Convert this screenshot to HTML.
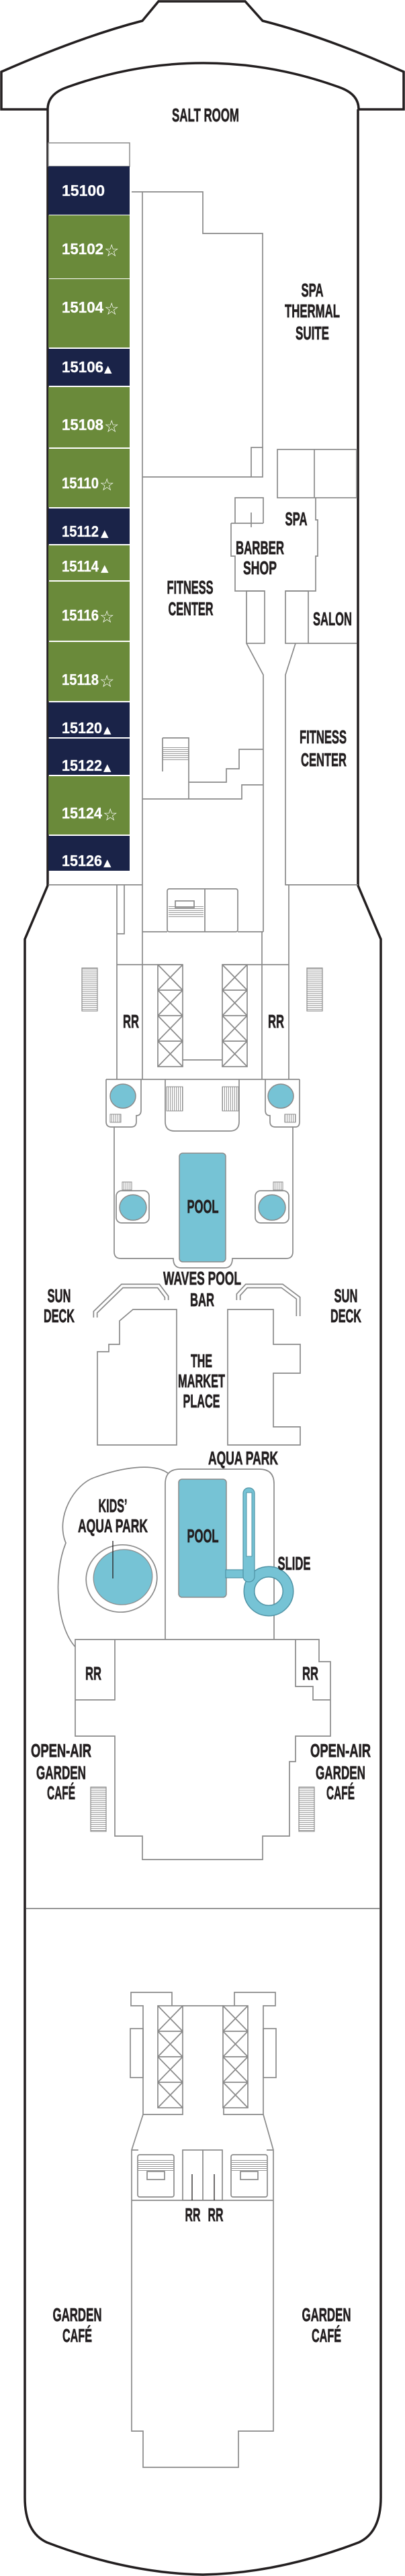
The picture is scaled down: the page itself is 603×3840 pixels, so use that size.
<!DOCTYPE html>
<html><head><meta charset="utf-8"><style>
html,body{margin:0;padding:0;background:#fff;}
svg{display:block;}
.l{font-family:"Liberation Sans Narrow","Liberation Sans",sans-serif;font-weight:bold;font-size:28px;fill:#231f20;stroke:#231f20;stroke-width:0.7;text-anchor:middle;}
.c{font-family:"Liberation Sans",sans-serif;font-weight:bold;font-size:23px;fill:#fff;stroke:#fff;stroke-width:0.3;}
.s{font-family:"DejaVu Sans",sans-serif;font-size:25px;fill:#fff;}
.t{font-family:"DejaVu Sans",sans-serif;font-size:15px;fill:#fff;}
.g{fill:none;stroke:#8a8a8a;stroke-width:1.7;}
.h{fill:none;stroke:#231f20;stroke-width:3.5;}
</style></head><body>
<svg width="603" height="3840" viewBox="0 0 603 3840" xmlns="http://www.w3.org/2000/svg">
<defs>
<pattern id="hl" width="4" height="3" patternUnits="userSpaceOnUse"><line x1="0" y1="1.5" x2="4" y2="1.5" stroke="#8a8a8a" stroke-width="0.9"/></pattern>
<pattern id="vl" width="3" height="4" patternUnits="userSpaceOnUse"><line x1="1.5" y1="0" x2="1.5" y2="4" stroke="#8a8a8a" stroke-width="0.9"/></pattern>
<g id="x4">
<rect x="0" y="0" width="37" height="152" class="g"/>
<path class="g" d="M0,38H37M0,76H37M0,114H37M0,0L37,38M37,0L0,38M0,38L37,76M37,38L0,76M0,76L37,114M37,76L0,114M0,114L37,152M37,114L0,152"/>
</g>
</defs>

<path class="h" d="M71,163 L2,163 L2,107 Q120,55 212,31 L236,2 L365,2 L391,31 Q485,55 601,107 L601,163 L534,163"/>
<path class="h" d="M71,163 Q71,140 100,130 Q200,94 303,94 Q406,94 505,130 Q534,140 534,163"/>
<path class="h" d="M71,163 L71,1320 L37,1400 L37,3723 Q37,3775 70,3790 Q190,3836 302,3838 Q414,3836 534,3790 Q567,3775 567,3723 L567,1400 L533,1320 L533,163"/>

<rect x="72" y="213" width="121" height="35" fill="#fff" stroke="#8a8a8a" stroke-width="1.5"/>
<g>
<rect x="72" y="248" width="121" height="72" fill="#1a2348"/>
<rect x="72" y="321" width="121" height="94" fill="#6a8a3a"/>
<rect x="72" y="416" width="121" height="102" fill="#6a8a3a"/>
<rect x="72" y="520" width="121" height="55" fill="#1a2348"/>
<rect x="72" y="577" width="121" height="90" fill="#6a8a3a"/>
<rect x="72" y="669" width="121" height="87" fill="#6a8a3a"/>
<rect x="72" y="758" width="121" height="53" fill="#1a2348"/>
<rect x="72" y="813" width="121" height="52" fill="#6a8a3a"/>
<rect x="72" y="867" width="121" height="88" fill="#6a8a3a"/>
<rect x="72" y="957" width="121" height="88" fill="#6a8a3a"/>
<rect x="72" y="1047" width="121" height="52" fill="#1a2348"/>
<rect x="72" y="1101" width="121" height="54" fill="#1a2348"/>
<rect x="72" y="1157" width="121" height="87" fill="#6a8a3a"/>
<rect x="72" y="1246" width="121" height="52" fill="#1a2348"/>
</g>
<text class="c" x="92" y="292" textLength="64" lengthAdjust="spacingAndGlyphs">15100</text>
<text class="c" x="92" y="379" textLength="62" lengthAdjust="spacingAndGlyphs">15102</text><text class="s" x="155" y="382">☆</text>
<text class="c" x="92" y="466" textLength="62" lengthAdjust="spacingAndGlyphs">15104</text><text class="s" x="155" y="469">☆</text>
<text class="c" x="92" y="555" textLength="62" lengthAdjust="spacingAndGlyphs">15106</text><text class="t" x="155" y="555">▲</text>
<text class="c" x="92" y="641" textLength="62" lengthAdjust="spacingAndGlyphs">15108</text><text class="s" x="155" y="644">☆</text>
<text class="c" x="92" y="728" textLength="55" lengthAdjust="spacingAndGlyphs">15110</text><text class="s" x="148" y="731">☆</text>
<text class="c" x="92" y="800" textLength="55" lengthAdjust="spacingAndGlyphs">15112</text><text class="t" x="150" y="800">▲</text>
<text class="c" x="92" y="852" textLength="55" lengthAdjust="spacingAndGlyphs">15114</text><text class="t" x="150" y="852">▲</text>
<text class="c" x="92" y="925" textLength="55" lengthAdjust="spacingAndGlyphs">15116</text><text class="s" x="148" y="928">☆</text>
<text class="c" x="92" y="1021" textLength="55" lengthAdjust="spacingAndGlyphs">15118</text><text class="s" x="148" y="1024">☆</text>
<text class="c" x="92" y="1093" textLength="60" lengthAdjust="spacingAndGlyphs">15120</text><text class="t" x="154" y="1093">▲</text>
<text class="c" x="92" y="1149" textLength="60" lengthAdjust="spacingAndGlyphs">15122</text><text class="t" x="154" y="1149">▲</text>
<text class="c" x="92" y="1220" textLength="60" lengthAdjust="spacingAndGlyphs">15124</text><text class="s" x="153" y="1223">☆</text>
<text class="c" x="92" y="1291" textLength="60" lengthAdjust="spacingAndGlyphs">15126</text><text class="t" x="154" y="1291">▲</text>

<path class="g" d="M196,286 L212,286 M212,286 L302,286 L302,348 L391,348 L391,667"/>
<path class="g" d="M212,286 L212,1609"/>
<rect class="g" x="374" y="667" width="17" height="44"/>
<path class="g" d="M212,711 L374,711"/>
<rect class="g" x="413" y="670" width="118" height="72"/>
<path class="g" d="M468,670 L468,742"/>
<path class="g" d="M350,780 L350,742 L392,742 L392,780 M344,780 L392,780 M344,780 L344,829 L350,829 L350,881 L394,881 M374,764 L374,786"/>
<path class="g" d="M470,742 L470,775 L473,775 L473,829 L470,829 L470,881 L425,881"/>
<rect class="g" x="367" y="881" width="27" height="78"/>
<path class="g" d="M367,959 L392,1006 L392,1389"/>
<rect class="g" x="425" y="881" width="34" height="78"/>
<path class="g" d="M459,959 L531,959"/>
<path class="g" d="M440,959 L425,1006 L425,1319 L533,1319"/>
<path class="g" d="M72,1319 L212,1319"/>
<rect x="242" y="1112" width="39" height="22" fill="url(#hl)"/>
<path class="g" d="M242,1100 L242,1150 M242,1100 L281,1100 L281,1166 M392,1117 L356,1117 L356,1146 L337,1146 L337,1166 L281,1166 M392,1170 L360,1170 L360,1191 L212,1191 M281,1166 L281,1191"/>
<path class="g" d="M174,1319 L174,1609 M185,1319 L185,1392 L174,1392"/>
<rect class="g" x="249" y="1325" width="105" height="64" rx="3"/>
<path class="g" d="M305,1325 L305,1389 M212,1389 L249,1389 M354,1389 L392,1389"/>
<rect x="251" y="1351" width="52" height="17" fill="url(#hl)"/>
<rect class="g" x="261" y="1343" width="28" height="10"/>
<path class="g" d="M430,1319 L430,1609 M390,1389 L390,1609 M174,1438 L272,1438 M331,1438 L430,1438 M272,1580 L331,1580"/>
<use href="#x4" x="235" y="1438"/>
<use href="#x4" x="331" y="1438"/>
<rect x="122" y="1443" width="23" height="64" fill="url(#hl)" stroke="#8a8a8a" stroke-width="1.2"/>
<rect x="457" y="1443" width="23" height="64" fill="url(#hl)" stroke="#8a8a8a" stroke-width="1.2"/>
<text class="l" x="195" y="1532" textLength="24" lengthAdjust="spacingAndGlyphs">RR</text>
<text class="l" x="411" y="1532" textLength="24" lengthAdjust="spacingAndGlyphs">RR</text>

<path class="g" d="M158,1609 L446,1609 M158,1609 L158,1672 Q158,1680 166,1680 L170,1680 L170,1866 Q170,1876 180,1876 L258,1876 Q258,1890 270,1890 L334,1890 Q346,1890 346,1876 L426,1876 Q436,1876 436,1866 L436,1680 L440,1680 Q446,1680 446,1672 L446,1609"/>
<path class="g" d="M210,1609 L210,1655 Q210,1663 203,1663 L203,1672 Q203,1680 195,1680 L170,1680"/>
<path class="g" d="M395,1609 L395,1655 Q395,1663 402,1663 L402,1672 Q402,1680 410,1680 L436,1680"/>
<path class="g" d="M246,1609 L246,1672 Q246,1686 260,1686 L342,1686 Q356,1686 356,1672 L356,1609"/>
<ellipse cx="183" cy="1634" rx="19" ry="18" fill="#76c3d5" stroke="#8a8a8a" stroke-width="1.5"/>
<ellipse cx="418" cy="1634" rx="19" ry="18" fill="#76c3d5" stroke="#8a8a8a" stroke-width="1.5"/>
<rect x="248" y="1620" width="24" height="36" fill="url(#vl)" stroke="#8a8a8a" stroke-width="1"/>
<rect x="331" y="1620" width="24" height="36" fill="url(#vl)" stroke="#8a8a8a" stroke-width="1"/>
<rect x="164" y="1661" width="16" height="12" fill="url(#vl)" stroke="#8a8a8a" stroke-width="1"/>
<rect x="424" y="1661" width="16" height="12" fill="url(#vl)" stroke="#8a8a8a" stroke-width="1"/>
<rect class="g" x="173" y="1775" width="49" height="48" rx="8"/>
<rect class="g" x="380" y="1775" width="50" height="48" rx="8"/>
<rect x="182" y="1762" width="14" height="12" fill="url(#vl)" stroke="#8a8a8a" stroke-width="1"/>
<rect x="407" y="1762" width="14" height="12" fill="url(#vl)" stroke="#8a8a8a" stroke-width="1"/>
<ellipse cx="198" cy="1800" rx="20" ry="19" fill="#76c3d5" stroke="#8a8a8a" stroke-width="1.5"/>
<ellipse cx="405" cy="1800" rx="20" ry="19" fill="#76c3d5" stroke="#8a8a8a" stroke-width="1.5"/>
<rect x="267" y="1719" width="69" height="162" rx="5" fill="#76c3d5" stroke="#8a8a8a" stroke-width="1.5"/>
<text class="l" x="302" y="1808" textLength="47" lengthAdjust="spacingAndGlyphs">POOL</text>

<text class="l" x="301" y="1915" textLength="116" lengthAdjust="spacingAndGlyphs">WAVES POOL</text>
<text class="l" x="301" y="1947" textLength="36" lengthAdjust="spacingAndGlyphs">BAR</text>
<text class="l" x="88" y="1941" textLength="35" lengthAdjust="spacingAndGlyphs">SUN</text>
<text class="l" x="88" y="1971" textLength="46" lengthAdjust="spacingAndGlyphs">DECK</text>
<text class="l" x="515" y="1941" textLength="35" lengthAdjust="spacingAndGlyphs">SUN</text>
<text class="l" x="515" y="1971" textLength="46" lengthAdjust="spacingAndGlyphs">DECK</text>
<path d="M142,1964 L142,1956 L182,1917 L236,1917 L248,1933 L248,1938" fill="none" stroke="#8a8a8a" stroke-width="7"/>
<path d="M142,1964 L142,1956 L182,1917 L236,1917 L248,1933 L248,1938" fill="none" stroke="#fff" stroke-width="3.6"/>
<path d="M355,1938 L355,1930 L367,1917 L420,1917 L444,1935 L444,1962" fill="none" stroke="#8a8a8a" stroke-width="7"/>
<path d="M355,1938 L355,1930 L367,1917 L420,1917 L444,1935 L444,1962" fill="none" stroke="#fff" stroke-width="3.6"/>
<path class="g" d="M145,2015 L145,2154 L263,2154 L263,1952 L198,1952 L178,1969 L178,2004 L162,2004 L162,2015 Z"/>
<path class="g" d="M339,1952 L339,2154 L447,2154 L447,2127 L407,2127 L407,2047 L447,2047 L447,2004 L407,2004 L407,1952 Z"/>
<text class="l" x="300" y="2038" textLength="32" lengthAdjust="spacingAndGlyphs">THE</text>
<text class="l" x="300" y="2068" textLength="70" lengthAdjust="spacingAndGlyphs">MARKET</text>
<text class="l" x="300" y="2098" textLength="55" lengthAdjust="spacingAndGlyphs">PLACE</text>
<text class="l" x="362" y="2183" textLength="104" lengthAdjust="spacingAndGlyphs">AQUA PARK</text>

<path class="g" d="M246,2444 L246,2212 Q246,2190 268,2190 L386,2190 Q408,2190 408,2212 L408,2444"/>
<rect x="266" y="2205" width="71" height="176" rx="5" fill="#76c3d5" stroke="#8a8a8a" stroke-width="1.5"/>
<text class="l" x="302" y="2299" textLength="47" lengthAdjust="spacingAndGlyphs">POOL</text>
<rect x="336" y="2340" width="30" height="12" fill="#76c3d5" stroke="#4f93a5" stroke-width="1.2"/>
<circle cx="400" cy="2372" r="29" fill="none" stroke="#4f93a5" stroke-width="17"/>
<circle cx="400" cy="2372" r="29" fill="none" stroke="#76c3d5" stroke-width="14"/>
<rect x="362" y="2218" width="17" height="140" rx="8" fill="#76c3d5" stroke="#4f93a5" stroke-width="1.2"/>
<rect x="367" y="2225" width="8" height="95" fill="#fff" stroke="#4f93a5" stroke-width="1"/>
<text class="l" x="438" y="2340" textLength="49" lengthAdjust="spacingAndGlyphs">SLIDE</text>
<path class="g" d="M112,2455 C85,2425 78,2350 98,2300 C82,2262 110,2212 142,2202 C180,2188 228,2180 250,2196"/>
<ellipse cx="181" cy="2353" rx="53" ry="50" transform="rotate(-15 181 2353)" fill="#fff" stroke="#8a8a8a" stroke-width="1.7"/>
<ellipse cx="183" cy="2351" rx="44" ry="41" transform="rotate(-15 183 2351)" fill="#76c3d5" stroke="#8a8a8a" stroke-width="1.2"/>
<path d="M168,2297 L168,2353" stroke="#231f20" stroke-width="1.3"/>
<text class="l" x="168" y="2254" textLength="43" lengthAdjust="spacingAndGlyphs">KIDS’</text>
<text class="l" x="168" y="2284" textLength="104" lengthAdjust="spacingAndGlyphs">AQUA PARK</text>

<path class="g" d="M112,2444 L475,2444 L475,2477 L492,2477 L492,2588 L440,2588 L440,2626 L431,2626 L431,2737 L391,2737 L391,2772 L212,2772 L212,2737 L171,2737 L171,2588 L112,2588 Z"/>
<path class="g" d="M112,2534 L171,2534 L171,2444 M440,2444 L440,2514 L466,2514 L466,2534 L492,2534"/>
<text class="l" x="139" y="2504" textLength="24" lengthAdjust="spacingAndGlyphs">RR</text>
<text class="l" x="462" y="2504" textLength="24" lengthAdjust="spacingAndGlyphs">RR</text>
<rect x="135" y="2664" width="23" height="66" fill="url(#hl)" stroke="#8a8a8a" stroke-width="1.2"/>
<rect x="445" y="2664" width="23" height="66" fill="url(#hl)" stroke="#8a8a8a" stroke-width="1.2"/>
<text class="l" x="91" y="2619" textLength="90" lengthAdjust="spacingAndGlyphs">OPEN-AIR</text>
<text class="l" x="91" y="2652" textLength="74" lengthAdjust="spacingAndGlyphs">GARDEN</text>
<text class="l" x="91" y="2682" textLength="42" lengthAdjust="spacingAndGlyphs">CAFÉ</text>
<text class="l" x="507" y="2619" textLength="90" lengthAdjust="spacingAndGlyphs">OPEN-AIR</text>
<text class="l" x="507" y="2652" textLength="74" lengthAdjust="spacingAndGlyphs">GARDEN</text>
<text class="l" x="507" y="2682" textLength="42" lengthAdjust="spacingAndGlyphs">CAFÉ</text>
<path class="g" d="M39,2845 L565,2845"/>

<path class="g" d="M213,3152 L213,2990 L195,2990 L195,2970 L256,2970 L256,2990 M392,3152 L392,2990 L410,2990 L410,2970 L349,2970 L349,2990 M272,2990 L333,2990"/>
<use href="#x4" x="235" y="2990"/>
<use href="#x4" x="332" y="2990"/>
<path class="g" d="M213,3152 L272,3152 L272,3141 M392,3152 L333,3152 L333,3141"/>
<rect class="g" x="194" y="3024" width="19" height="73"/>
<rect class="g" x="392" y="3024" width="19" height="73"/>
<path class="g" d="M213,3152 L196,3205 L196,3624 L213,3624 L213,3678 L355,3678 L355,3624 L407,3624 L407,3205 L392,3152 M196,3205 L206,3205 M397,3205 L407,3205 M196,3280 L407,3280"/>
<rect class="g" x="272" y="3205" width="59" height="75"/>
<path class="g" d="M302,3205 L302,3280"/>
<path d="M286,3241 L286,3280 M319,3241 L319,3280" stroke="#231f20" stroke-width="1.3"/>
<rect class="g" x="205" y="3212" width="54" height="63" rx="3"/>
<rect x="206" y="3220" width="52" height="17" fill="url(#hl)"/>
<rect class="g" x="219" y="3237" width="26" height="12"/>
<rect class="g" x="344" y="3212" width="54" height="63" rx="3"/>
<rect x="345" y="3220" width="52" height="17" fill="url(#hl)"/>
<rect class="g" x="358" y="3237" width="26" height="12"/>
<text class="l" x="287" y="3311" textLength="23" lengthAdjust="spacingAndGlyphs">RR</text>
<text class="l" x="321" y="3311" textLength="23" lengthAdjust="spacingAndGlyphs">RR</text>
<text class="l" x="115" y="3460" textLength="73" lengthAdjust="spacingAndGlyphs">GARDEN</text>
<text class="l" x="115" y="3491" textLength="44" lengthAdjust="spacingAndGlyphs">CAFÉ</text>
<text class="l" x="486" y="3460" textLength="73" lengthAdjust="spacingAndGlyphs">GARDEN</text>
<text class="l" x="486" y="3491" textLength="44" lengthAdjust="spacingAndGlyphs">CAFÉ</text>

<text class="l" x="306" y="181" textLength="100" lengthAdjust="spacingAndGlyphs">SALT ROOM</text>
<text class="l" x="465" y="442" textLength="33" lengthAdjust="spacingAndGlyphs">SPA</text>
<text class="l" x="465" y="473" textLength="82" lengthAdjust="spacingAndGlyphs">THERMAL</text>
<text class="l" x="465" y="506" textLength="50" lengthAdjust="spacingAndGlyphs">SUITE</text>
<text class="l" x="441" y="783" textLength="33" lengthAdjust="spacingAndGlyphs">SPA</text>
<text class="l" x="387" y="826" textLength="72" lengthAdjust="spacingAndGlyphs">BARBER</text>
<text class="l" x="387" y="856" textLength="50" lengthAdjust="spacingAndGlyphs">SHOP</text>
<text class="l" x="283" y="885" textLength="69" lengthAdjust="spacingAndGlyphs">FITNESS</text>
<text class="l" x="284" y="917" textLength="67" lengthAdjust="spacingAndGlyphs">CENTER</text>
<text class="l" x="495" y="932" textLength="58" lengthAdjust="spacingAndGlyphs">SALON</text>
<text class="l" x="481" y="1108" textLength="70" lengthAdjust="spacingAndGlyphs">FITNESS</text>
<text class="l" x="482" y="1142" textLength="68" lengthAdjust="spacingAndGlyphs">CENTER</text>
</svg>
</body></html>
